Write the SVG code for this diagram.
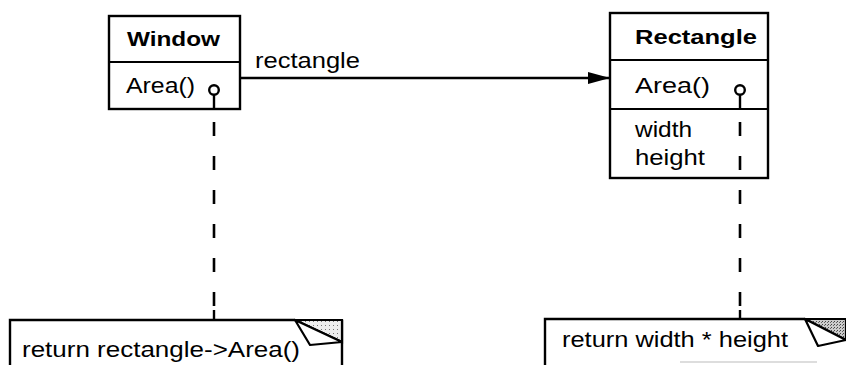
<svg xmlns="http://www.w3.org/2000/svg" width="846" height="365" viewBox="0 0 846 365">
  <defs>
    <style>
      .box { fill: #fff; stroke: #000; stroke-width: 2.4; }
      .sep { stroke: #000; stroke-width: 2.2; }
      .title { font-family: "Liberation Sans", Arial, sans-serif; font-weight: bold; font-size: 20px; fill: #000; }
      .txt { font-family: "Liberation Sans", Arial, sans-serif; font-size: 22px; fill: #000; }
      .dash { stroke: #000; stroke-width: 2.6; fill: none; stroke-dasharray: 14 20; }
      .line { stroke: #000; stroke-width: 2.4; fill: none; }
      .pin { fill: #fff; stroke: #000; stroke-width: 2.4; }
      .flap { fill: #fff; stroke: #000; stroke-width: 2.2; stroke-linejoin: round; }
    </style>
    <marker id="arrow" markerWidth="22" markerHeight="12" refX="22" refY="6" orient="auto" markerUnits="userSpaceOnUse">
      <path d="M0,0 L22,6 L0,12 Z" fill="#000"/>
    </marker>
    <pattern id="stipple-light" width="4" height="4" patternUnits="userSpaceOnUse">
      <rect width="4" height="4" fill="#eeeeee"/>
      <rect x="1" y="1" width="1" height="1" fill="#777"/>
    </pattern>
    <pattern id="stipple-dark" width="3" height="3" patternUnits="userSpaceOnUse">
      <rect width="3" height="3" fill="#cccccc"/>
      <rect x="0" y="0" width="1" height="1" fill="#444"/>
      <rect x="2" y="1" width="1" height="1" fill="#666"/>
    </pattern>
  </defs>

  <!-- Window class -->
  <g id="window">
    <rect class="box" x="109" y="16" width="131" height="93"/>
    <line class="sep" x1="109" y1="62" x2="240" y2="62"/>
    <text class="title" x="127" y="46" textLength="93" lengthAdjust="spacingAndGlyphs">Window</text>
    <text class="txt" x="126" y="93" textLength="69" lengthAdjust="spacingAndGlyphs">Area()</text>
    <line class="line" x1="214" y1="95" x2="214" y2="109"/>
    <circle class="pin" cx="214" cy="90" r="4.8"/>
  </g>

  <!-- Rectangle class -->
  <g id="rectangle">
    <rect class="box" x="610" y="13" width="158" height="165"/>
    <line class="sep" x1="610" y1="60" x2="768" y2="60"/>
    <line class="sep" x1="610" y1="109" x2="768" y2="109"/>
    <text class="title" x="635" y="44" textLength="122" lengthAdjust="spacingAndGlyphs">Rectangle</text>
    <text class="txt" x="635" y="93" textLength="75" lengthAdjust="spacingAndGlyphs">Area()</text>
    <text class="txt" x="635" y="137" textLength="57" lengthAdjust="spacingAndGlyphs">width</text>
    <text class="txt" x="635" y="165" textLength="70" lengthAdjust="spacingAndGlyphs">height</text>
    <line class="line" x1="740" y1="95" x2="740" y2="109"/>
    <circle class="pin" cx="740" cy="90" r="4.8"/>
  </g>

  <!-- Note for Window::Area -->
  <g id="note-window">
    <path class="line" d="M10,365 L10,320 L295,320 M342,320 L342,365"/>
    <polygon points="295,320 342,320 342,342" fill="url(#stipple-light)" stroke="#000" stroke-width="2.2"/>
    <polygon class="flap" points="295,320 310,345 342,342"/>
    <text class="txt" x="22" y="357" textLength="278" lengthAdjust="spacingAndGlyphs">return rectangle-&gt;Area()</text>
  </g>

  <!-- Note for Rectangle::Area -->
  <g id="note-rectangle">
    <path class="line" d="M545,365 L545,319 L805,319"/>
    <polygon points="805,319 846,319 846,340" fill="url(#stipple-dark)" stroke="#000" stroke-width="2.2"/>
    <polygon class="flap" points="805,319 818,346 846,340"/>
    <text class="txt" x="562" y="347" textLength="226" lengthAdjust="spacingAndGlyphs">return width * height</text>
    <line x1="680" y1="362" x2="817" y2="362" stroke="#bbb" stroke-width="1"/>
  </g>

  <!-- Connectors -->
  <g id="connectors">
    <line class="line" x1="240" y1="78" x2="610" y2="78" marker-end="url(#arrow)"/>
    <text class="txt" x="255" y="68" textLength="105" lengthAdjust="spacingAndGlyphs">rectangle</text>
    <line class="dash" x1="214" y1="122" x2="214" y2="306"/>
    <line class="line" x1="214" y1="310" x2="214" y2="320"/>
    <line class="dash" x1="740" y1="122" x2="740" y2="306"/>
    <line class="line" x1="740" y1="310" x2="740" y2="319"/>
  </g>
</svg>
